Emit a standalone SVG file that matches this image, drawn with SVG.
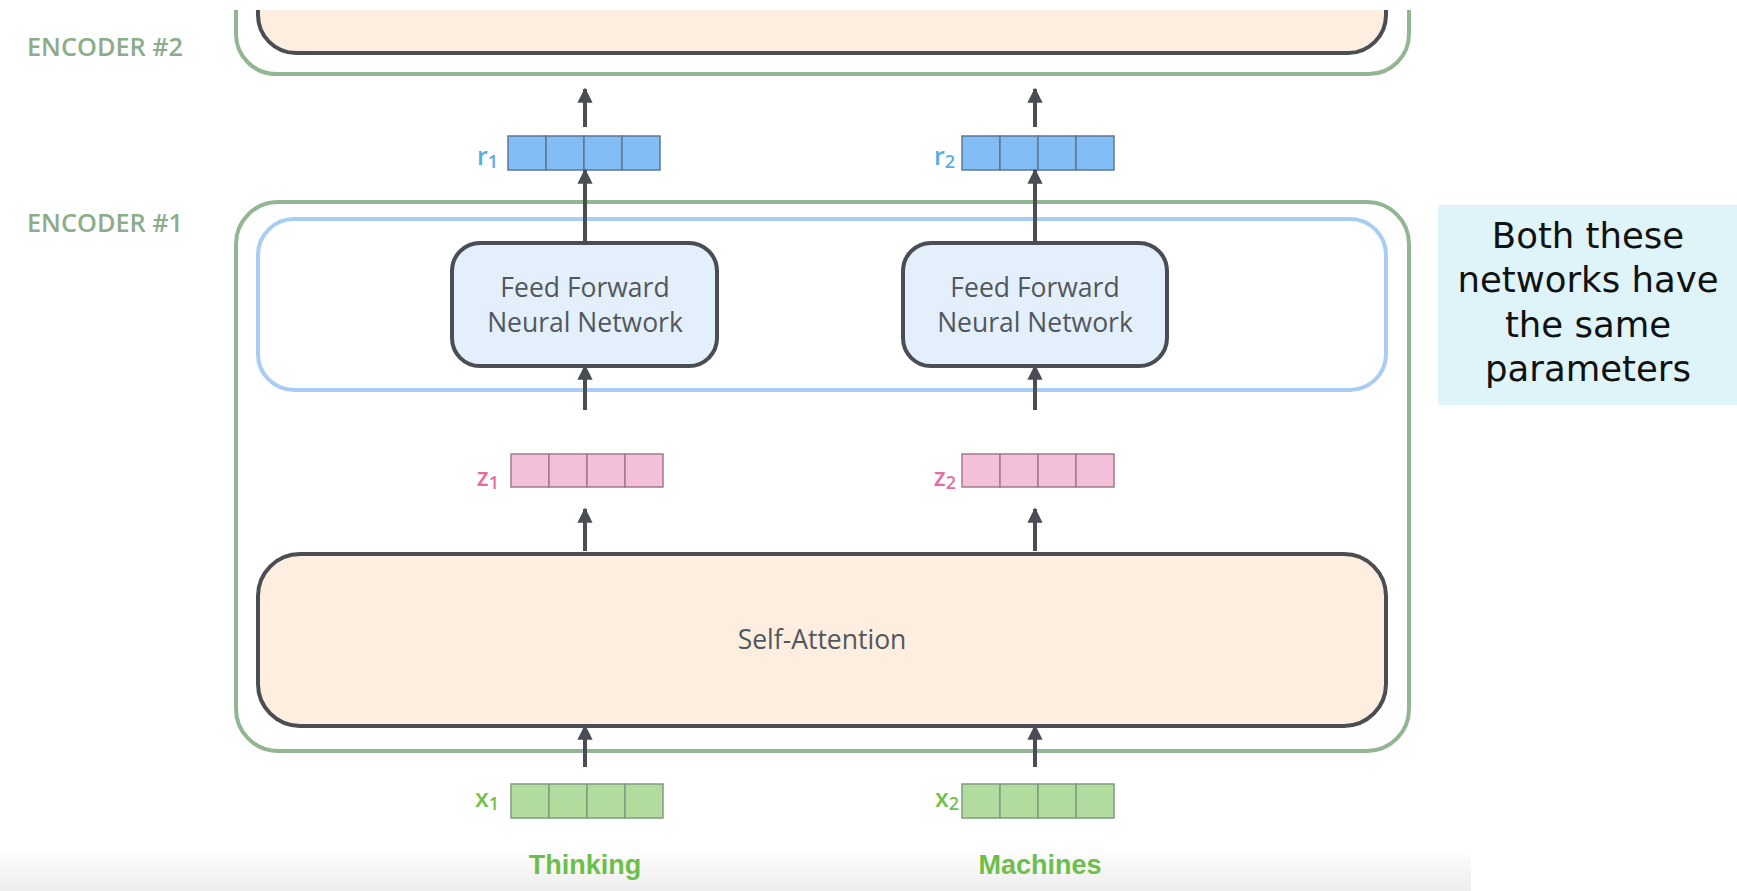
<svg xmlns="http://www.w3.org/2000/svg" width="1737" height="891" viewBox="0 0 1737 891">
<style>
.enc{fill:none;stroke:#92b592;stroke-width:4}
.blue{fill:none;stroke:#a9cdf2;stroke-width:4}
.dark{stroke:#4a4e54;stroke-width:4}
.peach{fill:#fdeee0}
.ffnn{fill:#e3effb}
.lbl{font-family:"Open Sans",sans-serif;font-size:26.5px;fill:#52575d;text-anchor:middle}
.enct{font-family:"Open Sans",sans-serif;font-size:25.3px;font-weight:600;fill:#8cac8c}
.word{font-family:"Liberation Sans",Arial,sans-serif;font-size:27px;font-weight:bold;fill:#6dbf4a;text-anchor:middle}
.sub{font-family:"Open Sans",sans-serif;font-size:25px;font-weight:600;text-anchor:end}
.conn{stroke:#4a4e54;stroke-width:4;fill:none;marker-end:url(#ah)}
.cell{stroke-width:1.5}
.note{font-family:"DejaVu Sans",sans-serif;font-size:35.5px;fill:#111;text-anchor:middle}
</style>
<defs>
<marker id="ah" viewBox="0 0 10 10" refX="9" refY="5" markerWidth="3.8" markerHeight="3.8" orient="auto" markerUnits="strokeWidth">
<path d="M0,0 L10,5 L0,10 z" fill="#4a4e54"/>
</marker>
<linearGradient id="bot" x1="0" y1="0" x2="0" y2="1">
<stop offset="0" stop-color="#ffffff"/>
<stop offset="1" stop-color="#ededed"/>
</linearGradient>
<clipPath id="topclip"><rect x="0" y="10" width="1737" height="881"/></clipPath>
</defs>
<rect width="1737" height="891" fill="#ffffff"/>
<rect x="0" y="848" width="1471" height="43" fill="url(#bot)"/>

<g id="encoder2" clip-path="url(#topclip)">
<rect class="enc" x="236" y="-100" width="1173" height="174" rx="40"/>
<rect class="peach dark" x="258" y="-100" width="1128" height="153" rx="38"/>
</g>
<text class="enct" x="27" y="56">ENCODER #2</text>

<g id="encoder1">
<rect class="enc" x="236" y="202" width="1173" height="549" rx="42"/>
<text class="enct" x="27" y="232">ENCODER #1</text>
</g>
<g id="ffn-layer">
<rect class="blue" x="258" y="219" width="1128" height="171" rx="36"/>
</g>
<g id="ffnn1">
<rect class="ffnn dark" x="452" y="243" width="265" height="123" rx="28"/>
<text class="lbl" x="585" y="297">Feed Forward</text>
<text class="lbl" x="585" y="332">Neural Network</text>
</g>
<g id="ffnn2">
<rect class="ffnn dark" x="903" y="243" width="264" height="123" rx="28"/>
<text class="lbl" x="1035" y="297">Feed Forward</text>
<text class="lbl" x="1035" y="332">Neural Network</text>
</g>
<g id="self-attention">
<rect class="peach dark" x="258" y="554" width="1128" height="172" rx="42"/>
<text class="lbl" x="822" y="649" font-size="27px">Self-Attention</text>
</g>

<g id="r1">
<text class="sub" x="498" y="165" fill="#55ade6">r<tspan font-size="18" dy="3">1</tspan></text>
<g fill="#82bdf5" stroke="#5b7894" class="cell">
<rect x="508" y="136" width="38" height="34"/><rect x="546" y="136" width="38" height="34"/><rect x="584" y="136" width="38" height="34"/><rect x="622" y="136" width="38" height="34"/>
</g>
</g>
<g id="r2">
<text class="sub" x="955" y="165" fill="#55ade6">r<tspan font-size="18" dy="3">2</tspan></text>
<g fill="#82bdf5" stroke="#5b7894" class="cell">
<rect x="962" y="136" width="38" height="34"/><rect x="1000" y="136" width="38" height="34"/><rect x="1038" y="136" width="38" height="34"/><rect x="1076" y="136" width="38" height="34"/>
</g>
</g>
<g id="z1">
<text class="sub" x="499" y="486" fill="#e46ea2">z<tspan font-size="18" dy="3">1</tspan></text>
<g fill="#f4bfd8" stroke="#a27a8e" class="cell">
<rect x="511" y="454" width="38" height="33"/><rect x="549" y="454" width="38" height="33"/><rect x="587" y="454" width="38" height="33"/><rect x="625" y="454" width="38" height="33"/>
</g>
</g>
<g id="z2">
<text class="sub" x="956" y="486" fill="#e46ea2">z<tspan font-size="18" dy="3">2</tspan></text>
<g fill="#f4bfd8" stroke="#a27a8e" class="cell">
<rect x="962" y="454" width="38" height="33"/><rect x="1000" y="454" width="38" height="33"/><rect x="1038" y="454" width="38" height="33"/><rect x="1076" y="454" width="38" height="33"/>
</g>
</g>
<g id="x1">
<text class="sub" x="499" y="807" fill="#76bf4c">x<tspan font-size="18" dy="3">1</tspan></text>
<g fill="#b2dc9e" stroke="#7f9c7f" class="cell">
<rect x="511" y="784" width="38" height="34"/><rect x="549" y="784" width="38" height="34"/><rect x="587" y="784" width="38" height="34"/><rect x="625" y="784" width="38" height="34"/>
</g>
</g>
<g id="x2">
<text class="sub" x="959" y="807" fill="#76bf4c">x<tspan font-size="18" dy="3">2</tspan></text>
<g fill="#b2dc9e" stroke="#7f9c7f" class="cell">
<rect x="962" y="784" width="38" height="34"/><rect x="1000" y="784" width="38" height="34"/><rect x="1038" y="784" width="38" height="34"/><rect x="1076" y="784" width="38" height="34"/>
</g>
</g>
<g id="thinking"><text class="word" x="585" y="874">Thinking</text></g>
<g id="machines"><text class="word" x="1040" y="874">Machines</text></g>

<g id="note">
<rect x="1438" y="205" width="299" height="200" fill="#dff4f9"/>
<text class="note" x="1588" y="248">Both these</text>
<text class="note" x="1588" y="292">networks have</text>
<text class="note" x="1588" y="337">the same</text>
<text class="note" x="1588" y="381">parameters</text>
</g>

<g id="connectors">
<line class="conn" x1="585" y1="127" x2="585" y2="89"/>
<line class="conn" x1="1035" y1="127" x2="1035" y2="89"/>
<line class="conn" x1="585" y1="243" x2="585" y2="170"/>
<line class="conn" x1="1035" y1="243" x2="1035" y2="170"/>
<line class="conn" x1="585" y1="410" x2="585" y2="366"/>
<line class="conn" x1="1035" y1="410" x2="1035" y2="366"/>
<line class="conn" x1="585" y1="551" x2="585" y2="509"/>
<line class="conn" x1="1035" y1="551" x2="1035" y2="509"/>
<line class="conn" x1="585" y1="767" x2="585" y2="726"/>
<line class="conn" x1="1035" y1="767" x2="1035" y2="726"/>
</g>
</svg>
